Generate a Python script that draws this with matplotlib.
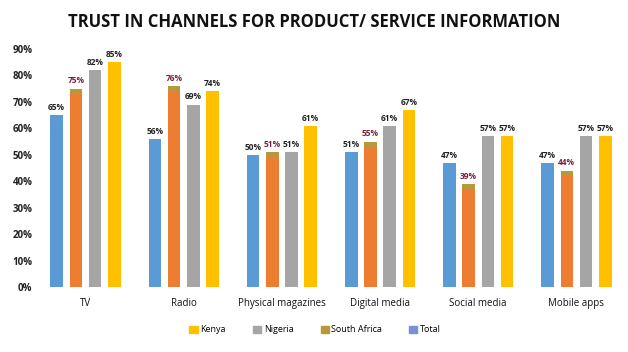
import matplotlib
matplotlib.use("Agg")
import matplotlib.pyplot as plt
import numpy as np
from matplotlib.patches import Patch

categories = ["TV", "Radio", "Physical magazines", "Digital media", "Social media", "Mobile apps"]
total = [65, 56, 50, 51, 47, 47]
south_africa = [75, 76, 51, 55, 39, 44]
nigeria = [82, 69, 51, 61, 57, 57]
kenya = [85, 74, 61, 67, 57, 57]
yticks = [0, 10, 20, 30, 40, 50, 60, 70, 80, 90]

plt.rcParams['font.family'] = ['Open Sans', 'DejaVu Sans']

fig = plt.figure(figsize=(6.28, 3.52), dpi=100)
ax = fig.add_axes([36.5/628, 1-287/352, 589/628, 238/352])

x = np.arange(len(categories))
step = 0.196
w = 0.128
c_total = "#5B9BD5"
c_sa_cap = "#B8983A"
c_sa = "#ED7D31"
c_ng = "#A5A5A5"
c_ke = "#FFC000"

ax.bar(x - 1.5*step, total, w, color=c_total)
ax.bar(x - 0.5*step, south_africa, w, color=c_sa_cap)
ax.bar(x - 0.5*step, np.array(south_africa) - 2.0, w, color=c_sa)
ax.bar(x + 0.5*step, nigeria, w, color=c_ng)
ax.bar(x + 1.5*step, kenya, w, color=c_ke)

for series, off, col in [(total, -1.5, "#222222"), (south_africa, -0.5, "#7A1F3D"),
                         (nigeria, 0.5, "#222222"), (kenya, 1.5, "#222222")]:
    for xi, v in zip(x, series):
        ax.text(xi + off*step, v + 1.2, f"{v}%", ha="center", va="bottom",
                fontsize=6, fontweight="bold", color=col, clip_on=False)

ax.set_xlim(-0.5, len(categories) - 0.5)
ax.set_ylim(0, 90)
ax.set_yticks(yticks)
ax.set_yticklabels([f"{t}%" for t in yticks], fontsize=7, fontweight="bold", color="#222222")
ax.set_xticks(x)
ax.set_xticklabels(categories, fontsize=7, color="#111111")
ax.tick_params(length=0)
ax.tick_params(axis="x", pad=8)
ax.tick_params(axis="y", pad=3)
for s in ax.spines.values():
    s.set_visible(False)

fig.text(0.5, 1-22/352, "TRUST IN CHANNELS FOR PRODUCT/ SERVICE INFORMATION", ha="center", va="center",
         fontsize=12, fontweight="bold", color="#111111")

handles = [Patch(color=c_ke, label="Kenya"), Patch(color=c_ng, label="Nigeria"),
           Patch(color=c_sa_cap, label="South Africa"), Patch(color="#7B8FD6", label="Total")]
fig.legend(handles=handles, loc="center", bbox_to_anchor=(0.502, 1-330/352), ncol=4, frameon=False,
           fontsize=6.5, handlelength=0.9, handleheight=0.9, handletextpad=0.3, columnspacing=3.0)

fig.savefig("out.png", dpi=100)
